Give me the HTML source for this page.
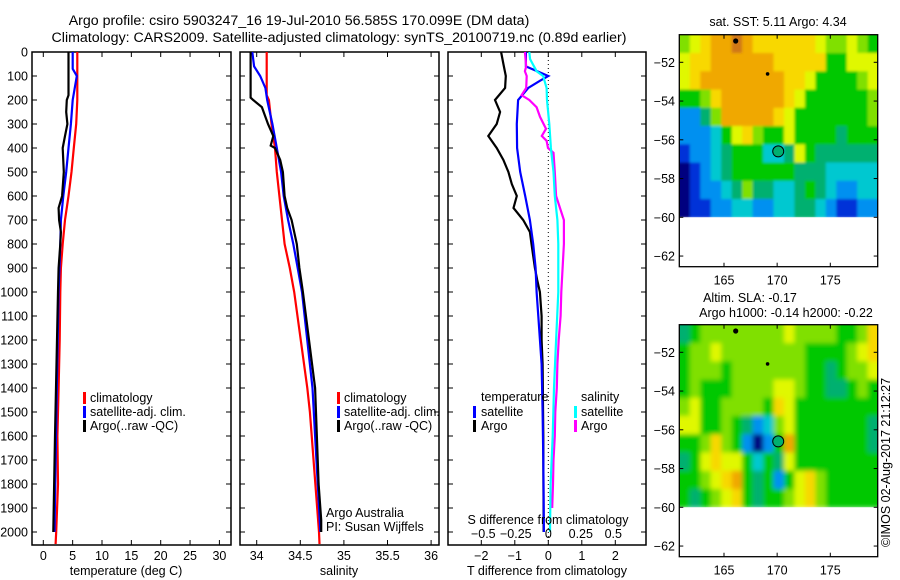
<!DOCTYPE html>
<html><head><meta charset="utf-8"><style>
html,body{margin:0;padding:0;background:#fff;}
svg{display:block;font-family:"Liberation Sans",sans-serif;}
</style></head><body>
<svg id="c" width="900" height="580" viewBox="0 0 900 580">
<defs>
<filter id="blurS" x="-5%" y="-5%" width="110%" height="110%"><feGaussianBlur stdDeviation="1.2"/></filter>
<filter id="blurL" x="-5%" y="-5%" width="110%" height="110%"><feGaussianBlur stdDeviation="2.5"/></filter>
<clipPath id="clipTop"><rect x="679.3" y="34.7" width="198.4" height="182.6"/></clipPath>
<clipPath id="clipBot"><rect x="679.3" y="324.7" width="198.4" height="182.6"/></clipPath>
</defs>
<text x="299" y="25" font-size="14.2" text-anchor="middle">Argo profile: csiro 5903247_16 19-Jul-2010 56.585S 170.099E (DM data)</text>
<text x="339" y="42" font-size="14.2" text-anchor="middle">Climatology: CARS2009. Satellite-adjusted climatology: synTS_20100719.nc (0.89d earlier)</text>
<g id="g"></g>
</svg>
<script>
// ---- Temperature profile data (deg C) ----
const tClimD=[0,100,200,300,400,500,600,700,800,900,1000,1200,1400,1600,1800,2000,2050];
const tClimV=[5.8,5.8,5.8,5.6,5.2,4.8,4.3,3.7,3.3,3.0,2.9,2.8,2.6,2.4,2.5,2.2,2.1];
const tSatD=[0,70,100,200,300,400,500,600,700,800,1000,1400,2000];
const tSatV=[5.0,5.0,5.7,5.0,4.7,4.3,3.9,3.4,3.0,2.9,2.6,2.3,1.9];
const tArgoD=[0,180,200,250,300,350,400,500,600,650,700,750,800,900,1000,1600,2000];
const tArgoV=[4.3,4.3,4.0,3.9,4.1,3.7,3.3,3.5,3.2,2.6,2.7,3.0,2.9,2.6,2.5,2.0,1.7];
// ---- Salinity profile data ----
const sClimD=[0,180,200,300,400,500,600,700,800,900,1000,1400,1500,2000,2050];
const sClimV=[34.115,34.115,34.14,34.17,34.21,34.23,34.26,34.29,34.32,34.38,34.43,34.58,34.61,34.715,34.72];
const sSatD=[0,60,100,150,200,300,400,500,600,700,800,900,1000,1400,1600,2000];
const sSatV=[33.95,33.97,34.04,34.1,34.12,34.18,34.23,34.28,34.31,34.36,34.42,34.47,34.52,34.64,34.67,34.73];
const sArgoD=[0,190,200,230,300,350,390,400,450,500,600,650,700,800,900,1000,1400,1800,1950,2000];
const sArgoV=[33.93,33.93,33.96,34.06,34.13,34.19,34.16,34.21,34.27,34.30,34.32,34.35,34.40,34.46,34.49,34.53,34.67,34.71,34.74,34.74];
// ---- Difference data ----
const dTArgoD=[0,50,100,150,200,250,300,350,400,450,500,550,600,650,700,750,800,850,900,950,1000,1100,1200,1300,1600,2000];
const dTArgoV=[-1.41,-1.34,-1.27,-1.29,-1.59,-1.44,-1.54,-1.79,-1.54,-1.34,-1.19,-1.09,-0.94,-1.04,-0.75,-0.55,-0.50,-0.45,-0.40,-0.33,-0.25,-0.2,-0.2,-0.17,-0.15,-0.14];
const dTSatD=[0,60,100,120,150,200,300,400,500,600,700,800,900,1000,1100,1300,1500,1700,2000];
const dTSatV=[-0.67,-0.67,0.0,-0.25,-0.6,-0.9,-0.94,-0.93,-0.84,-0.69,-0.55,-0.45,-0.38,-0.35,-0.3,-0.2,-0.17,-0.15,-0.13];
const dSSatD=[0,30,80,100,150,200,300,400,500,600,700,800,1000,1200,1400,1600,1800,2000];
const dSSatV=[-0.146,-0.14,-0.09,-0.04,-0.013,-0.01,0.008,0.02,0.04,0.05,0.07,0.077,0.077,0.06,0.044,0.034,0.018,0.013];
const dSArgoD=[0,60,80,100,150,180,200,230,270,320,350,370,400,420,500,600,700,800,900,1000,1100,1200,1300,1400,1500,1600,1700,1800,1900];
const dSArgoV=[-0.18,-0.17,-0.18,-0.166,-0.17,-0.205,-0.146,-0.09,-0.064,-0.018,-0.05,-0.013,-0.002,0.04,0.05,0.06,0.12,0.12,0.11,0.1,0.095,0.08,0.07,0.065,0.054,0.05,0.04,0.036,0.03];
// ---- Map grids (colour level 0..10), rows lat -50.6 -> -60, cols lon 161 -> 179 ----
const sstGrid=[
[6,7,8,9,9,10,9,8,8,8,8,8,8,7,6,6,7,6,5],
[7,8,8,9,9,9,9,9,9,8,8,8,8,8,5,5,7,7,7],
[7,8,9,9,9,9,9,9,9,9,8,8,7,5,5,5,5,6,7],
[5,5,6,8,9,9,9,9,9,9,8,7,5,5,5,5,5,5,6],
[2,2,4,6,9,9,9,9,9,8,7,5,5,5,5,5,5,5,6],
[2,2,2,3,5,7,8,6,5,5,7,5,5,5,5,4,5,5,5],
[1,2,2,3,4,5,5,5,3,3,4,7,5,4,4,4,4,4,4],
[0,1,2,3,4,5,5,5,5,5,5,4,4,4,3,3,3,3,3],
[0,1,2,2,3,4,6,4,4,3,3,4,5,4,3,2,2,3,3],
[0,1,1,2,2,3,3,2,2,3,3,4,4,3,2,1,1,2,2]];
const slaGrid=[
[4,5,6,6,6,6,6,6,6,6,7,6,6,6,6,5,5,6,8],
[5,6,6,7,6,6,6,6,6,6,6,6,5,5,5,5,6,7,8],
[5,6,6,6,5,6,6,6,6,6,6,6,5,5,4,5,6,6,7],
[5,6,5,5,5,6,6,6,6,7,7,6,5,5,4,4,5,6,5],
[6,7,5,5,6,6,6,6,5,8,7,5,5,5,5,5,5,5,5],
[7,7,5,5,6,5,4,2,3,6,7,5,5,5,5,5,5,5,4],
[5,5,6,8,6,5,2,0,2,5,9,5,5,5,5,5,5,5,4],
[4,5,7,8,7,7,5,3,5,4,7,5,5,5,5,5,5,5,5],
[5,5,6,7,8,9,5,4,5,2,5,7,8,6,5,5,5,5,5],
[5,4,5,6,7,8,5,4,5,5,6,7,8,6,5,5,5,5,5]];
const depthTicks=[0,100,200,300,400,500,600,700,800,900,1000,1100,1200,1300,1400,1500,1600,1700,1800,1900,2000];
const tTicks=[0,5,10,15,20,25,30];
const sTicks=[34,34.5,35,35.5,36];
const sTickLbl=["34","34.5","35","35.5","36"];
const dTTicks=[-2,-1,0,1,2];
const dSTicks=[-0.5,-0.25,0,0.25,0.5];
const dSTickLbl=["\u22120.5","\u22120.25","0","0.25","0.5"];
const latTicks=[-52,-54,-56,-58,-60,-62];
const lonTicks=[165,170,175];
const palette=["#00007f","#0030d8","#0090f0","#00c8d0","#00b070","#00c800","#80e000","#e0f800","#f8d800","#f0a800","#d07818"];

const NS="http://www.w3.org/2000/svg";
const G=document.getElementById('g');
function mk(t,a,p){const e=document.createElementNS(NS,t);for(const k in a)e.setAttribute(k,a[k]);(p||G).appendChild(e);return e;}
const yD=d=>52+d*0.24;
const xT=v=>43.3+v*5.87;
const xS=v=>256.7+(v-34)*87.2;
const xDT=v=>548.3+v*33.5;
const xDS=v=>548.3+v*130;

function frame(x0,x1,name){
  const r=mk('rect',{x:x0,y:52,width:x1-x0,height:493,fill:'none',stroke:'#000','stroke-width':1.5});
  
  
  depthTicks.forEach(d=>{
    mk('line',{x1:x0,x2:x0+5,y1:yD(d),y2:yD(d),stroke:'#000'});
    mk('line',{x1:x1,x2:x1-5,y1:yD(d),y2:yD(d),stroke:'#000'});
  });
}
function xticks(vals,fx,lbls,x0,x1,name){
  vals.forEach((v,i)=>{
    const x=fx(v);
    mk('line',{x1:x,x2:x,y1:545,y2:540,stroke:'#000'});
    mk('line',{x1:x,x2:x,y1:52,y2:57,stroke:'#000'});
    const t=mk('text',{x:x,y:560,'font-size':12.5,'text-anchor':'middle'});
    t.textContent=lbls[i];
    
    
  });
}
function line(D,V,fx,col,name){
  const pts=D.map((d,i)=>fx(V[i]).toFixed(1)+','+yD(d).toFixed(1)).join(' ');
  const p=mk('polyline',{points:pts,fill:'none',stroke:col,'stroke-width':2.2,'stroke-linejoin':'miter'});
  
  
}
function txt(x,y,s,name,size,anchor){
  const t=mk('text',{x:x,y:y,'font-size':size||12.5,'text-anchor':anchor||'start'});
  t.textContent=s;
  
  
  return t;
}
function legmark(x,y,col,name){
  const r=mk('rect',{x:x,y:y-10,width:3,height:12,fill:col});
  
  
}

// Panel 1
frame(32,231,'temperature-panel');
depthTicks.forEach(d=>{txt(28,yD(d)+4.5,String(d),'depth-tick-label',12.5,'end');});
xticks(tTicks,xT,tTicks.map(String),32,231,'temperature-tick-label');
line(tClimD,tClimV,xT,'#ff0000','temperature-climatology-line');
line(tSatD,tSatV,xT,'#0000ff','temperature-satellite-line');
line(tArgoD,tArgoV,xT,'#000000','temperature-argo-line');
txt(126,575,'temperature (deg C)','temperature-axis-title',12.5,'middle');
legmark(83,402,'#ff0000','legend-climatology-mark');txt(90,402,'climatology','legend-climatology');
legmark(83,416,'#0000ff','legend-satellite-mark');txt(90,416,'satellite-adj. clim.','legend-satellite');
legmark(83,430,'#000000','legend-argo-mark');txt(90,430,'Argo(..raw -QC)','legend-argo');

// Panel 2
frame(240,439,'salinity-panel');
xticks(sTicks,xS,sTickLbl,240,439,'salinity-tick-label');
line(sClimD,sClimV,xS,'#ff0000','salinity-climatology-line');
line(sSatD,sSatV,xS,'#0000ff','salinity-satellite-line');
line(sArgoD,sArgoV,xS,'#000000','salinity-argo-line');
txt(339,575,'salinity','salinity-axis-title',12.5,'middle');
legmark(337,402,'#ff0000','legend2-climatology-mark');txt(344,402,'climatology','legend2-climatology');
legmark(337,416,'#0000ff','legend2-satellite-mark');txt(344,416,'satellite-adj. clim.','legend2-satellite');
legmark(337,430,'#000000','legend2-argo-mark');txt(344,430,'Argo(..raw -QC)','legend2-argo');
txt(326,517,'Argo Australia','argo-australia-label');
txt(326,531,'PI: Susan Wijffels','pi-label');

// Panel 3
frame(448,646,'difference-panel');
xticks(dTTicks,xDT,dTTicks.map(v=>v<0?'\u2212'+(-v):String(v)),448,646,'t-diff-tick-label');
mk('line',{x1:548.3,x2:548.3,y1:52,y2:545,stroke:'#000','stroke-width':1,'stroke-dasharray':'1,3'});
line(dTArgoD,dTArgoV,xDT,'#000000','t-diff-argo-line');
line(dTSatD,dTSatV,xDT,'#0000ff','t-diff-satellite-line');
line(dSArgoD,dSArgoV,xDS,'#ff00ff','s-diff-argo-line');
line(dSSatD,dSSatV,xDS,'#00ffff','s-diff-satellite-line');
dSTicks.forEach((v,i)=>{txt(xDS(v),538,dSTickLbl[i],'s-diff-tick-label',12.5,'middle');});
txt(548,524,'S difference from climatology','s-diff-axis-title',12.5,'middle');
txt(547,575,'T difference from climatology','t-diff-axis-title',12.5,'middle');
txt(481,401,'temperature','legend3-temperature-header');
legmark(473,416,'#0000ff','legend3-t-satellite-mark');txt(481,416,'satellite','legend3-t-satellite');
legmark(473,430,'#000000','legend3-t-argo-mark');txt(481,430,'Argo','legend3-t-argo');
txt(581,401,'salinity','legend3-salinity-header');
legmark(574,416,'#00ffff','legend3-s-satellite-mark');txt(581,416,'satellite','legend3-s-satellite');
legmark(574,430,'#ff00ff','legend3-s-argo-mark');txt(581,430,'Argo','legend3-s-argo');

// Maps
function map(top,grid,name,clip,filt){
  const L=679.3,R=877.7,B=top+232;
  const yL=lat=>top+27.6+(-52-lat)*19.375;
  const xL=lon=>724+(lon-165)*10.63;
  const lonMin=160.8, latTop=-50.58, nR=grid.length, nC=grid[0].length;
  const dLat=(latTop-(-60))/nR, dLon=(179.5-lonMin)/nC;
  const outer=mk('g',{'clip-path':'url(#'+clip+')'});
  const g=mk('g',{filter:'url(#'+filt+')'},outer);
  
  
  grid.forEach((row,r)=>row.forEach((v,c)=>{
    let x0=xL(lonMin+c*dLon), x1=xL(lonMin+(c+1)*dLon);
    let y0=yL(latTop-r*dLat), y1=yL(latTop-(r+1)*dLat);
    if(c===0)x0-=8; if(c===nC-1)x1+=8; if(r===0)y0-=8;
    const e=mk('rect',{x:x0.toFixed(1),y:y0.toFixed(1),width:(x1-x0+0.6).toFixed(1),height:(y1-y0+0.6).toFixed(1),fill:palette[v]},g);
    
    
  }));
  const fr=mk('rect',{x:L,y:top,width:R-L,height:B-top,fill:'none',stroke:'#000','stroke-width':1.3});
  
  
  latTicks.forEach(l=>{const y=yL(l);mk('line',{x1:L,x2:L+4,y1:y,y2:y,stroke:'#000'});mk('line',{x1:R,x2:R-4,y1:y,y2:y,stroke:'#000'});txt(675,y+4.5,'\u2212'+(-l),'lat-tick-label',12.5,'end');});
  lonTicks.forEach(l=>{const x=xL(l);mk('line',{x1:x,x2:x,y1:B,y2:B-4,stroke:'#000'});mk('line',{x1:x,x2:x,y1:top,y2:top+4,stroke:'#000'});txt(x,B+18,String(l),'lon-tick-label',12.5,'middle');});
  const d1=mk('circle',{cx:xL(166.1),cy:yL(-50.9),r:2.6,fill:'#000'});
  
  const d2=mk('circle',{cx:xL(169.1),cy:yL(-52.6),r:1.8,fill:'#000'});
  
  const c=mk('circle',{cx:xL(170.1),cy:yL(-56.6),r:5.5,fill:'#00b070',stroke:'#000','stroke-width':1});
  
}
map(34.7,sstGrid,'sst-map','clipTop','blurS');
txt(778,26,'sat. SST: 5.11 Argo: 4.34','sst-map-title',12.5,'middle');
map(324.7,slaGrid,'sla-map','clipBot','blurL');
txt(750,302,'Altim. SLA: -0.17','sla-map-title',12.5,'middle');
txt(786,317,'Argo h1000: -0.14 h2000: -0.22','sla-map-subtitle',12.5,'middle');
const cp=txt(0,0,'\u00a9IMOS 02-Aug-2017 21:12:27','copyright-label',12.5,'start');
cp.setAttribute('transform','translate(890,547) rotate(-90)');
</script>
</body></html>
